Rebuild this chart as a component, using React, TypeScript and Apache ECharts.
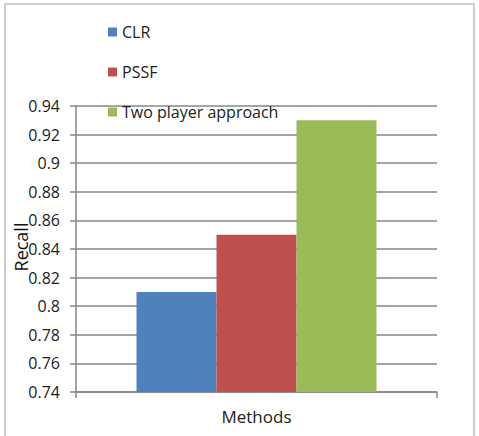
import React, { useEffect, useRef } from "react";
import * as echarts from "echarts";

const categories = ["Methods"];
const seriesNames = ["CLR", "PSSF", "Two player approach"];
const seriesValues = [0.81, 0.85, 0.93];
const seriesColors = ["#4f81bd", "#c0504d", "#9bbb59"];

export default function App() {
  const ref = useRef<HTMLDivElement>(null);
  useEffect(() => {
    document.body.style.margin = "0";
    const chart = echarts.init(ref.current!, null, { renderer: "svg" });
    const font = "'Open Sans', 'Noto Sans', sans-serif";
    chart.setOption({
      animation: false,
      textStyle: { fontFamily: font },
      graphic: [
        {
          type: "rect",
          shape: { x: 5, y: 4, width: 469, height: 440 },
          style: { fill: "none", stroke: "#bfbfbf", lineWidth: 1.5 },
        },
        {
          type: "text",
          x: 21,
          y: 247,
          rotation: Math.PI / 2,
          style: {
            text: "Recall",
            fontSize: 18,
            fontFamily: font,
            fill: "#111",
            align: "center",
            verticalAlign: "middle",
          },
          z: 100,
        },
      ],
      legend: {
        orient: "vertical",
        left: 103,
        top: 19,
        itemGap: 24,
        itemWidth: 9,
        itemHeight: 9,
        icon: "rect",
        textStyle: { fontSize: 16, color: "#222", fontFamily: font },
        data: seriesNames,
      },
      grid: { left: 76, right: 42, top: 106, bottom: 44, containLabel: false },
      xAxis: {
        type: "category",
        data: categories,
        name: "Methods",
        nameLocation: "middle",
        nameGap: 16,
        nameTextStyle: { fontSize: 17, color: "#222", fontFamily: font },
        axisLabel: { show: false },
        axisLine: { lineStyle: { color: "#878787", width: 1.5 } },
        axisTick: { show: true, length: 6, lineStyle: { color: "#878787", width: 1.5 } },
      },
      yAxis: {
        type: "value",
        min: 0.74,
        max: 0.94,
        interval: 0.02,
        axisLine: { show: true, lineStyle: { color: "#878787", width: 1.5 } },
        axisTick: { show: true, length: 6, lineStyle: { color: "#878787", width: 1.5 } },
        splitLine: { show: true, lineStyle: { color: "#878787", width: 1.5 } },
        axisLabel: {
          fontSize: 16,
          color: "#222",
          fontFamily: font,
          margin: 16,
          formatter: (v: number) => String(+v.toFixed(2)),
        },
      },
      series: seriesNames.map((name, i) => ({
        name,
        type: "bar",
        data: [seriesValues[i]],
        barWidth: 80,
        barGap: "0%",
        itemStyle: { color: seriesColors[i] },
      })),
    });
    return () => chart.dispose();
  }, []);
  return <div ref={ref} style={{ width: 479, height: 436 }} />;
}
